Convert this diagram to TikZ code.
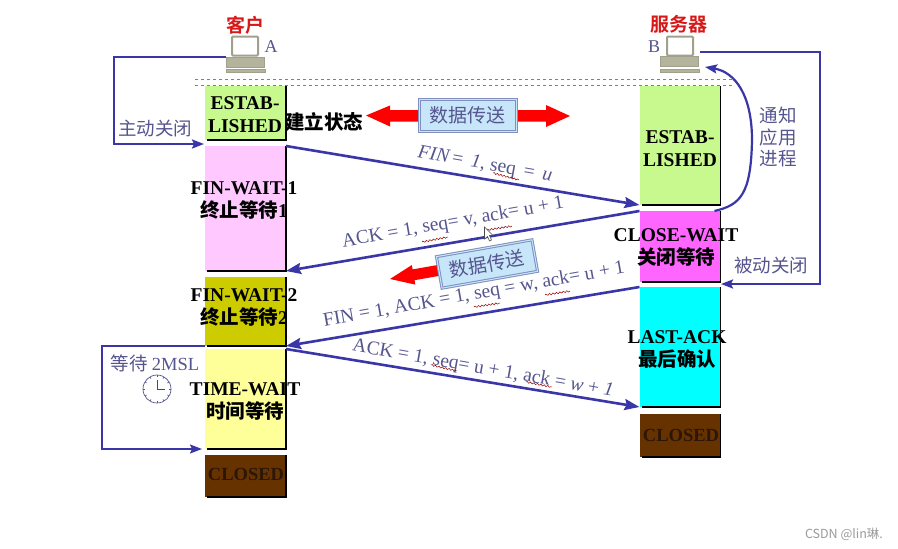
\documentclass[tikz,border=0pt]{standalone}
\usepackage{fontspec}
\usetikzlibrary{arrows.meta,calc,decorations.pathmorphing}
\setmainfont{Liberation Serif}
\newfontfamily\cjk{Noto Sans CJK SC}
\newfontfamily\cjkb{Noto Sans CJK SC Bold}
\definecolor{msgblue}{HTML}{3A36A8}
\definecolor{txtblue}{HTML}{55558F}
\definecolor{boxfill}{HTML}{C8E6FA}
\definecolor{boxline}{HTML}{7F8FC0}
\definecolor{pcgray}{HTML}{B4B49C}
\definecolor{pcdark}{HTML}{A0A08C}
\definecolor{cgreen}{HTML}{C8F98E}
\definecolor{cpink}{HTML}{FFC8FF}
\definecolor{colive}{HTML}{CCCC00}
\definecolor{cyell}{HTML}{FFFF99}
\definecolor{cmag}{HTML}{FF66FF}
\definecolor{ccyan}{HTML}{00FFFF}
\definecolor{cbrown}{HTML}{663300}
\definecolor{cdark}{HTML}{2B1608}
\definecolor{cred}{HTML}{FF0000}
\definecolor{whored}{HTML}{D81818}
\definecolor{wmgray}{HTML}{9A9A9A}
\tikzset{
  statebox/.style={rectangle,inner sep=0pt,outer sep=0pt,minimum width=81pt},
  statetext/.style={inner sep=0pt,align=center,font=\fontsize{19.5}{23}\selectfont\bfseries,text=black},
  msg/.style={draw=msgblue,line width=2.6pt,-{Stealth[length=15pt,width=11pt,inset=2pt]}},
  loopline/.style={draw=msgblue,line width=2.2pt,-{Stealth[length=12pt,width=9pt,inset=2pt]}},
  msgtext/.style={inner sep=0pt,text=txtblue,font=\fontsize{19.5}{22}\selectfont},
  side/.style={inner sep=0pt,text=txtblue,align=center,font=\fontsize{18.5}{21.7}\selectfont\cjk},
  who/.style={inner sep=0pt,text=whored,font=\fontsize{19}{21}\selectfont\cjkb},
  letter/.style={inner sep=0pt,text=txtblue,font=\fontsize{18}{20}\selectfont},
  databox/.style={draw=boxline,double=boxfill,fill=boxfill,line width=1pt,double distance=1pt,inner sep=0pt,minimum width=97pt,minimum height=32pt,text=txtblue,font=\fontsize{19}{21}\selectfont\cjk},
  pcpart/.style={rectangle,inner sep=0pt,outer sep=0pt,fill=pcgray,draw=pcdark,line width=.5pt},
  edgeline/.style={draw=black,line width=1.5pt},
  wave/.style={draw=red!60!black,line width=.5pt,decorate,decoration={snake,amplitude=.8pt,segment length=3.5pt}}
}
\begin{document}
\begin{tikzpicture}[x=1pt,y=-1pt]
\useasboundingbox[fill=white] (0,0) rectangle (898,549);

% dashed lines
\coordinate (d1l) at (195,79); \coordinate (d1r) at (732,79);
\coordinate (d2l) at (195,85); \coordinate (d2r) at (732,85);
\draw[dashed,gray,line width=.8pt] (d1l) -- (d1r);
\draw[dashed,gray,line width=.8pt] (d2l) -- (d2r);

% left column
\node[statebox,fill=cgreen,minimum height=54pt] (est) at (245.5,113) {};
\node[statebox,fill=cpink,minimum height=125pt] (fw1) at (245.5,208.5) {};
\node[statebox,fill=colive,minimum height=69pt] (fw2) at (245.5,311.5) {};
\node[statebox,fill=cyell,minimum height=100pt] (tw) at (245.5,399) {};
\node[statebox,fill=cbrown,minimum height=42pt] (cl) at (245.5,476) {};
% right column
\node[statebox,fill=cgreen,minimum height=119pt] (srv) at (680,145.5) {};
\node[statebox,fill=cmag,minimum height=71pt] (cw) at (680,246.5) {};
\node[statebox,fill=ccyan,minimum height=120pt] (la) at (680,347) {};
\node[statebox,fill=cbrown,minimum height=43pt] (cr) at (680,435.5) {};

\foreach \b in {est,fw1,fw2,tw,cl,srv,cw,la,cr}
  \draw[edgeline] (\b.north east) -- (\b.south east) -- ($(\b.south west)+(2,0)$);

\node[statetext] (estT) at (245,115) {ESTAB-\\LISHED};
\node[statetext,anchor=west] (estC) at (285,122) {\cjkb 建立状态};
\node[statetext] (fw1T) at (244,200) {FIN-WAIT-1\\{\cjkb 终止等待}1};
\node[statetext] (fw2T) at (244,307) {FIN-WAIT-2\\{\cjkb 终止等待}2};
\node[statetext] (twT) at (245,401) {TIME-WAIT\\{\cjkb 时间等待}};
\node[statetext,text=cdark,font=\fontsize{18.5}{23}\selectfont\bfseries] (clT) at (246,474) {CLOSED};
\node[statetext] (srvT) at (680,148.5) {ESTAB-\\LISHED};
\node[statetext] (cwT) at (676,247) {CLOSE-WAIT\\{\cjkb 关闭等待}};
\node[statetext] (laT) at (677,349.5) {LAST-ACK\\{\cjkb 最后确认}};
\node[statetext,text=cdark,font=\fontsize{18.5}{23}\selectfont\bfseries] (crT) at (681,435) {CLOSED};

% computers
\node[pcpart,fill=white,draw=pcdark,line width=2pt,minimum width=26pt,minimum height=19pt,rounded corners=1pt] (monA) at (245,46) {};
\node[pcpart,minimum width=38pt,minimum height=10pt] (pcA) at (245,62) {};
\node[pcpart,minimum width=39pt,minimum height=3.5pt] (ftA) at (245.5,70.5) {};
\node[pcpart,fill=white,draw=pcdark,line width=2pt,minimum width=26pt,minimum height=19pt,rounded corners=1pt] (monB) at (680,46) {};
\node[pcpart,minimum width=38pt,minimum height=10pt] (pcB) at (679,61) {};
\node[pcpart,minimum width=39pt,minimum height=3.5pt] (ftB) at (679.5,70.5) {};
\node[who] (wa) at (245,25) {客户};
\node[who] (wb) at (679,24) {服务器};
\node[letter] (la1) at (271,47) {A};
\node[letter] (lb1) at (654,47) {B};

% side connectors
\coordinate (aL) at (114,100);
\coordinate (aIn) at (204,144);
\draw[loopline] (pcA.north west) -| (aL) |- (aIn);
\coordinate (bOut) at (700,52);
\coordinate (bR) at (820,200);
\coordinate (bIn) at (721,284);
\draw[loopline] (bOut) -| (bR) |- (bIn);
\coordinate (nEnd) at (705,67);
\draw[loopline] (cw.north east) ++(-6,0) coordinate (nStart) .. controls (740,205) and (751,195) .. (752,140) .. controls (752,95) and (735,72) .. (nEnd);
\coordinate (wL) at (102,400);
\coordinate (wIn) at (202,449);
\draw[loopline,line width=1.7pt] (fw2.south west) -| (wL) |- (wIn);

% messages
\draw[msg] (fw1.north east) -- (srv.south west);
\draw[msg] (cw.north west) -- (fw1.south east);
\draw[msg] (la.north west) -- (fw2.south east);
\draw[msg] (tw.north east) -- (la.south west);

\node[msgtext,rotate=-10] (m1) at (485,165) {{\itshape FIN}\,=\, {\itshape 1}, seq\, =\, {\itshape u}};
\node[msgtext,rotate=10] (m2) at (453,223) {ACK = 1, seq= v, ack= u + 1};
\node[msgtext,rotate=10] (m3) at (474,295) {FIN = 1, ACK = 1, seq = w, ack= u + 1};
\node[msgtext,rotate=-10] (m4) at (483,369) {ACK = 1, seq= u + 1, ack = {\itshape w} + {\itshape 1}};

% spell-check squiggles
\draw[wave] (493,173) -- (519,180);
\draw[wave] (422,242) -- (448,237);
\draw[wave] (487,230) -- (512,226);
\draw[wave] (474,307) -- (500,303);
\draw[wave] (545,295) -- (570,291);
\draw[wave] (431,365) -- (457,371);
\draw[wave] (526,382) -- (552,387);

% side labels
\node[side] (s1) at (155,129) {主动关闭};
\node[side] (s2) at (778,137) {通知\\应用\\进程};
\node[side] (s3) at (771,265) {被动关闭};
\node[side] (s4) at (155,363) {等待 {\rmfamily 2MSL}};

% clock
\node[circle,draw=txtblue,line width=.7pt,minimum size=28pt,inner sep=0pt] (clk) at (157,389) {};
\foreach \a in {0,30,...,330}
  \draw[txtblue,line width=.6pt] ($(clk)+(\a:12)$) -- ($(clk)+(\a:14)$);
\draw[black!70,line width=1pt] (clk.center) -- ++(0,-9);
\draw[black!70,line width=1pt] (clk.center) -- ++(8,0);

% data transfer arrows
\fill[cred] (366,115.5) -- (390,105.5) -- (390,110) -- (546,110) -- (546,105) -- (570,116) -- (546,127) -- (546,121.5) -- (390,121.5) -- (390,126.5) -- cycle;
\node[databox] (d1) at (467.5,115) {数据传送};
\fill[cred] (390,279) -- (411.9,265) -- (412.6,269.4) -- (443.2,264) -- (445.2,274.8) -- (414.6,280.2) -- (415.3,284.6) -- cycle;
\node[databox,rotate=10] (d2) at (487,264) {数据传送};

% pointer
\draw[fill=white,draw=black!70,line width=.6pt] (484.5,227) -- (484.5,239) -- (487.5,236.5) -- (489.5,241) -- (491.5,240) -- (489.5,235.5) -- (493,235.5) -- cycle;

% watermark
\node[inner sep=0pt,text=wmgray,font=\fontsize{12.5}{15}\selectfont\cjk] (wm) at (844,534) {CSDN @lin琳.};
\end{tikzpicture}
\end{document}
